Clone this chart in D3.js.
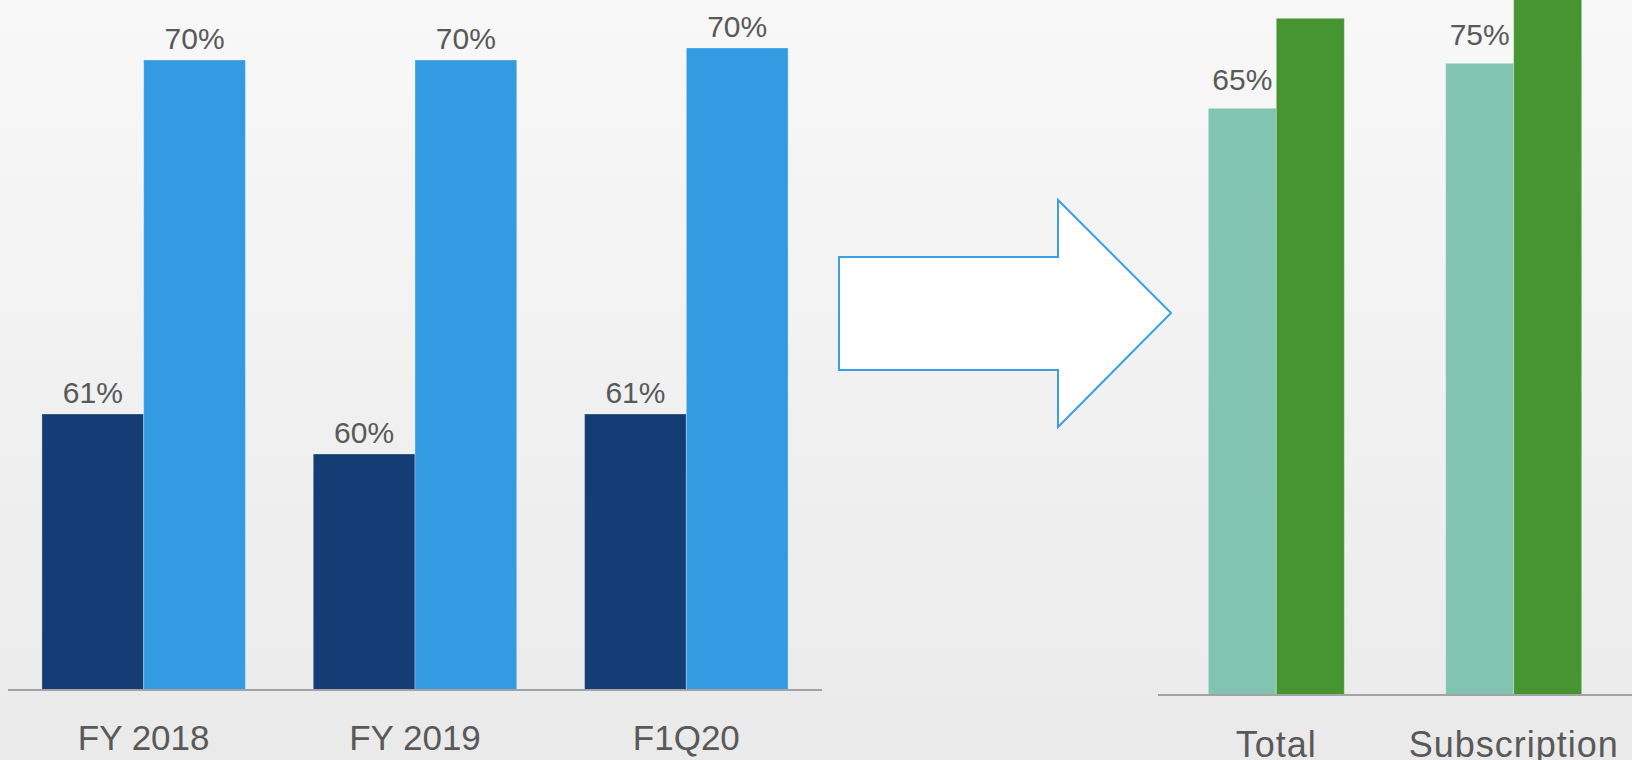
<!DOCTYPE html>
<html>
<head>
<meta charset="utf-8">
<script src="https://cdn.jsdelivr.net/npm/d3@7/dist/d3.min.js"></script>
<style>
  html, body { margin: 0; padding: 0; overflow: hidden; }
  svg { display: block; }
</style>
</head>
<body>
<svg id="chart" width="1632" height="760"></svg>
<script>
// Left panel: gross margin by period
const leftCategories = ["FY 2018", "FY 2019", "F1Q20"];
const leftSeriesA = [61.0, 60.0, 61.0];      // dark navy bars
const leftSeriesB = [69.85, 69.85, 70.15];   // light blue bars

// Right panel: target margins
const rightCategories = ["Total", "Subscription"];
const rightSeriesA = [65, 75];               // teal bars
const rightSeriesB = [85, 92];               // green bars

const W = 1632, H = 760;
const svg = d3.select("#chart");

// soft vertical background gradient
const defs = svg.append("defs");
const grad = defs.append("linearGradient").attr("id", "bg")
  .attr("x1", 0).attr("y1", 0).attr("x2", 0).attr("y2", 1);
grad.append("stop").attr("offset", "0%").attr("stop-color", "#f8f8f8");
grad.append("stop").attr("offset", "100%").attr("stop-color", "#eaeaea");
svg.append("rect").attr("width", W).attr("height", H).attr("fill", "url(#bg)");

const textColor = "#595959";
const pct = v => Math.round(v) + "%";

function drawPanel(opts) {
  const g = svg.append("g");
  const x0 = d3.scaleBand().domain(opts.categories)
    .range(opts.xRange).paddingInner(opts.padInner).paddingOuter(opts.padOuter);
  const x1 = d3.scaleBand().domain([0, 1]).range([0, x0.bandwidth()]);
  const y = d3.scaleLinear().domain(opts.yDomain).range([opts.baseline, 0]);

  const rows = opts.categories.map((c, i) => ({
    cat: c,
    vals: [opts.a[i], opts.b[i]]
  }));

  const groups = g.selectAll("g.grp").data(rows).join("g")
    .attr("class", "grp")
    .attr("transform", d => `translate(${x0(d.cat)},0)`);

  groups.selectAll("rect").data(d => d.vals.map((v, k) => ({ v, k }))).join("rect")
    .attr("x", d => x1(d.k))
    .attr("width", x1.bandwidth())
    .attr("y", d => y(d.v))
    .attr("height", d => opts.baseline - y(d.v))
    .attr("fill", d => opts.colors[d.k])
    .attr("stroke", "rgba(255,255,255,0.3)")
    .attr("stroke-width", 1);

  groups.selectAll("text.val").data(d => d.vals.map((v, k) => ({ v, k }))).join("text")
    .attr("class", "val")
    .attr("x", d => x1(d.k) + x1.bandwidth() / 2)
    .attr("y", d => y(d.v) - opts.labelGap)
    .attr("text-anchor", "middle")
    .attr("font-family", "'Liberation Sans', Arial, sans-serif")
    .attr("font-size", opts.valueSize)
    .attr("fill", textColor)
    .text(d => pct(d.v));

  // category axis
  const axis = g.append("g").attr("transform", `translate(0,${opts.baseline})`)
    .call(d3.axisBottom(x0).tickSize(0).tickPadding(0));
  axis.select(".domain")
    .attr("d", `M${opts.xRange[0]},0H${opts.xRange[1]}`)
    .attr("stroke", "#a3a3a3").attr("stroke-width", 2);
  axis.selectAll(".tick text")
    .attr("y", opts.catBaseline - opts.baseline)
    .attr("dy", 0)
    .attr("font-family", "'Liberation Sans', Arial, sans-serif")
    .attr("font-size", opts.catSize)
    .attr("letter-spacing", opts.catSpacing)
    .attr("fill", textColor);
}

drawPanel({
  categories: leftCategories, a: leftSeriesA, b: leftSeriesB,
  colors: ["#143d76", "#349be3"],
  xRange: [8, 822], padInner: 0.25, padOuter: 0.125,
  yDomain: [54.1, 71.35], baseline: 690,
  labelGap: 11, valueSize: 30,
  catBaseline: 750, catSize: 35, catSpacing: 0
});

drawPanel({
  categories: rightCategories, a: rightSeriesA, b: rightSeriesB,
  colors: ["#80c4b1", "#479433"],
  xRange: [1158, 1632], padInner: 0.427, padOuter: 0.212,
  yDomain: [-65.4, 89.07], baseline: 695,
  labelGap: 18, valueSize: 30,
  catBaseline: 757, catSize: 36, catSpacing: 1
});

// block arrow between the panels
const arrow = [
  [839, 257], [1058, 257], [1058, 200], [1171, 313],
  [1058, 427], [1058, 370], [839, 370]
];
svg.append("path")
  .attr("d", d3.line()(arrow) + "Z")
  .attr("fill", "#ffffff")
  .attr("stroke", "#3a9fe6")
  .attr("stroke-width", 2);
</script>
</body>
</html>
